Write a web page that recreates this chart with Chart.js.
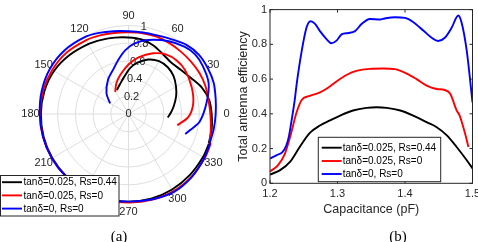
<!DOCTYPE html>
<html>
<head>
<meta charset="utf-8">
<script src="https://cdn.jsdelivr.net/npm/chart.js@4.4.1/dist/chart.umd.min.js"></script>
<style>
  html, body { margin: 0; padding: 0; background: #fff; overflow: hidden; }
  body { width: 478px; height: 242px; position: relative; }
  canvas { position: absolute; top: 0; }
  #polarChart { left: 0; }
  #effChart { left: 234px; }
  .cap { position: absolute; top: 228px; width: 40px; text-align: center;
         font: 15px 'Liberation Serif', 'Times New Roman', serif; line-height: 16px; color: #000; }
</style>
</head>
<body>
<canvas id="polarChart" width="240" height="242"></canvas>
<canvas id="effChart" width="260" height="242"></canvas>
<div class="cap" style="left:99px">(a)</div>
<div class="cap" style="left:378px">(b)</div>
<script>
// series shared by both panels
const seriesLabels = ['tanδ=0.025, Rs=0.44', 'tanδ=0.025, Rs=0', 'tanδ=0, Rs=0'];
const seriesColors = ['#000000', '#ff0000', '#0000ff'];

// (a) polar plot: angle in degrees, magnitude 0..1
const outerAngle = [-20, -10, 0, 10, 20, 30, 40, 50, 60, 70, 80, 90, 100, 110, 120, 135, 150, 165,
  180, 195, 210, 225, 240, 255, 270, 285, 300, 315, 330, 340];
const blackOuterR = [0.965, 0.955, 0.94, 0.925, 0.88, 0.815, 0.775, 0.755, 0.78, 0.825, 0.855, 0.865,
  0.877, 0.892, 0.912, 0.942, 0.972, 0.985, 0.99, 0.993, 0.995, 0.995, 0.995, 0.993, 0.99, 0.99,
  0.985, 0.978, 0.972, 0.968];
const redOuterR = [0.975, 0.945, 0.925, 0.917, 0.925, 0.926, 0.922, 0.92, 0.925, 0.93, 0.927, 0.922,
  0.93, 0.945, 0.962, 0.985, 0.995, 1.0, 1.0, 1.0, 1.0, 1.0, 1.0, 1.0, 1.0, 1.005, 1.01, 1.005,
  0.995, 0.985];
const blueOuterR = [0.975, 0.978, 0.985, 1.0, 1.025, 1.035, 1.04, 1.02, 0.975, 0.945, 0.935, 0.935,
  0.95, 0.975, 1.0, 1.02, 1.025, 1.015, 1.003, 1.0, 1.0, 1.0, 1.0, 0.995, 0.99, 1.0, 1.02, 1.01,
  0.99, 0.98];

const blackInnerAngle = [116, 106, 97, 88, 80, 70, 60, 50, 40, 30, 20, 10, 2, -5];
const blackInnerR = [0.30, 0.35, 0.42, 0.52, 0.59, 0.655, 0.69, 0.69, 0.665, 0.62, 0.572, 0.52, 0.48, 0.445];
const redInnerAngle = [121, 112, 102, 90, 80, 68, 58, 48, 38, 23, 9, -3, -13];
const redInnerR = [0.29, 0.37, 0.45, 0.56, 0.65, 0.74, 0.795, 0.815, 0.81, 0.776, 0.74, 0.676, 0.565];
const blueInnerAngle = [150, 137, 121, 108, 100, 93, 85, 75, 61, 50, 42, 33, 21, 8, -6, -14.6, -19.5];
const blueInnerR = [0.24, 0.34, 0.45, 0.54, 0.63, 0.72, 0.80, 0.866, 0.94, 0.99, 1.01, 1.0, 0.97,
  0.89, 0.81, 0.72, 0.68];

const radialTicks = [0, 0.2, 0.4, 0.6, 0.8, 1];
const angleTicks = [0, 30, 60, 90, 120, 150, 180, 210, 240, 270, 300, 330];

// (b) total antenna efficiency vs capacitance (pF)
const blackCap = [1.2, 1.215, 1.23, 1.244, 1.259, 1.274, 1.289, 1.304, 1.323, 1.343, 1.358, 1.373,
  1.393, 1.412, 1.432, 1.447, 1.462, 1.4765, 1.4915, 1.5];
const blackEff = [0.05, 0.076, 0.125, 0.209, 0.29, 0.333, 0.362, 0.39, 0.419, 0.434, 0.438, 0.434,
  0.419, 0.39, 0.352, 0.323, 0.276, 0.209, 0.133, 0.086];
const redCap = [1.2, 1.212, 1.222, 1.23, 1.2395, 1.247, 1.259, 1.274, 1.286, 1.299, 1.314, 1.328,
  1.348, 1.368, 1.385, 1.4025, 1.417, 1.432, 1.447, 1.459, 1.467, 1.4765, 1.481, 1.489, 1.494];
const redEff = [0.068, 0.105, 0.17, 0.27, 0.41, 0.48, 0.503, 0.523, 0.55, 0.588, 0.625, 0.647,
  0.659, 0.661, 0.657, 0.632, 0.6, 0.562, 0.543, 0.537, 0.515, 0.42, 0.39, 0.286, 0.209];
const blueCap = [1.2, 1.21, 1.218, 1.224, 1.228, 1.232, 1.2365, 1.2395, 1.247, 1.254, 1.26, 1.2667,
  1.274, 1.284, 1.291, 1.299, 1.306, 1.316, 1.326, 1.336, 1.348, 1.363, 1.37, 1.385, 1.4, 1.412,
  1.427, 1.4395, 1.449, 1.459, 1.469, 1.479, 1.484, 1.4915, 1.5];
const blueEff = [0.143, 0.162, 0.178, 0.215, 0.27, 0.362, 0.476, 0.571, 0.762, 0.895, 0.933, 0.918,
  0.876, 0.829, 0.806, 0.823, 0.857, 0.865, 0.876, 0.918, 0.946, 0.943, 0.949, 0.956, 0.952, 0.929,
  0.88, 0.838, 0.819, 0.838, 0.895, 0.966, 0.923, 0.762, 0.466];

const capTicks = [1.2, 1.3, 1.4, 1.5];
const effTicks = [0, 0.2, 0.4, 0.6, 0.8, 1];

Chart.defaults.font.family = "'Liberation Sans', Arial, sans-serif";
Chart.defaults.color = '#262626';
const axisColor = '#262626';

function toXY(angles, radii, close) {
  const pts = angles.map((a, i) => ({
    x: radii[i] * Math.cos(a * Math.PI / 180),
    y: radii[i] * Math.sin(a * Math.PI / 180),
  }));
  if (close) pts.push({ ...pts[0] });
  return pts;
}

function zip(xs, ys) {
  return xs.map((x, i) => ({ x, y: ys[i] }));
}

function lineSet(label, idx, data, inLegend, extra) {
  return Object.assign({
    label,
    data,
    showLine: true,
    borderColor: seriesColors[idx],
    backgroundColor: seriesColors[idx],
    borderWidth: 1.9,
    pointRadius: 0,
    fill: false,
    order: 3 - idx,
    inLegend,
  }, extra);
}

// boxed legend with a line sample and the label of each dataset flagged inLegend
function drawLegend(chart, box, rowsY, sampleX, textX) {
  const ctx = chart.ctx;
  const sets = chart.data.datasets.filter((d) => d.inLegend);
  ctx.save();
  ctx.fillStyle = '#fff';
  ctx.fillRect(box.x, box.y, box.w, box.h);
  ctx.strokeStyle = axisColor;
  ctx.lineWidth = 1;
  ctx.strokeRect(box.x, box.y, box.w, box.h);
  ctx.font = "10px 'Liberation Sans', Arial, sans-serif";
  ctx.textBaseline = 'middle';
  ctx.textAlign = 'left';
  sets.forEach((d, i) => {
    ctx.strokeStyle = d.borderColor;
    ctx.lineWidth = 1.9;
    ctx.beginPath();
    ctx.moveTo(sampleX[0], rowsY[i]);
    ctx.lineTo(sampleX[1], rowsY[i]);
    ctx.stroke();
    ctx.fillStyle = '#000';
    ctx.fillText(d.label, textX, rowsY[i] + 0.5);
  });
  ctx.restore();
}

// ---------- (a) polar ----------
const polarGrid = {
  id: 'polarGrid',
  beforeDatasetsDraw(chart) {
    const { ctx, scales: { x, y } } = chart;
    const cx = x.getPixelForValue(0);
    const cy = y.getPixelForValue(0);
    const unit = x.getPixelForValue(1) - cx;
    ctx.save();
    ctx.strokeStyle = '#dedede';
    ctx.lineWidth = 1;
    radialTicks.forEach((r) => {
      if (r <= 0) return;
      ctx.beginPath();
      ctx.arc(cx, cy, r * unit, 0, Math.PI * 2);
      ctx.stroke();
    });
    const rMax = radialTicks[radialTicks.length - 1];
    angleTicks.forEach((a) => {
      const t = a * Math.PI / 180;
      ctx.beginPath();
      ctx.moveTo(cx, cy);
      ctx.lineTo(cx + Math.cos(t) * rMax * unit, cy - Math.sin(t) * rMax * unit);
      ctx.stroke();
    });
    ctx.fillStyle = axisColor;
    ctx.font = "11px 'Liberation Sans', Arial, sans-serif";
    ctx.textAlign = 'center';
    ctx.textBaseline = 'middle';
    const labR = rMax * unit + 9.5;
    angleTicks.forEach((a) => {
      const t = a * Math.PI / 180;
      ctx.fillText(String(a), cx + Math.cos(t) * labR, cy - Math.sin(t) * labR);
    });
    const ra = 80 * Math.PI / 180;
    radialTicks.forEach((r) => {
      ctx.fillText(String(r), cx + Math.cos(ra) * r * unit, cy - Math.sin(ra) * r * unit);
    });
    ctx.restore();
  },
  afterDraw(chart) {
    drawLegend(chart, { x: 0.5, y: 175.5, w: 118.5, h: 40.5 }, [182.2, 195.4, 208.6], [2, 22], 23.5);
  },
};

new Chart(document.getElementById('polarChart'), {
  type: 'scatter',
  data: {
    datasets: [
      lineSet(seriesLabels[0], 0, toXY(outerAngle, blackOuterR, true), true, { tension: 0.3 }),
      lineSet(seriesLabels[1], 1, toXY(outerAngle, redOuterR, true), true, { tension: 0.3 }),
      lineSet(seriesLabels[2], 2, toXY(outerAngle, blueOuterR, true), true, { tension: 0.3 }),
      lineSet(seriesLabels[0], 0, toXY(blackInnerAngle, blackInnerR, false), false, { tension: 0.3 }),
      lineSet(seriesLabels[1], 1, toXY(redInnerAngle, redInnerR, false), false, { tension: 0.3 }),
      lineSet(seriesLabels[2], 2, toXY(blueInnerAngle, blueInnerR, false), false, { tension: 0.3 }),
    ],
  },
  options: {
    responsive: false,
    animation: false,
    events: [],
    clip: false,
    layout: { padding: { left: 4.6, right: 5.3, top: 3.4, bottom: 21.8 } },
    scales: {
      x: { type: 'linear', min: -1.4, max: 1.2, display: false },
      y: { type: 'linear', min: -1.2, max: 1.25, display: false },
    },
    plugins: { legend: { display: false }, tooltip: { enabled: false } },
  },
  plugins: [polarGrid],
});

// ---------- (b) efficiency ----------
const axesBox = {
  id: 'axesBox',
  afterDatasetsDraw(chart) {
    const { ctx, chartArea: a, scales: { x, y } } = chart;
    const tl = 3;
    ctx.save();
    ctx.strokeStyle = axisColor;
    ctx.lineWidth = 1;
    ctx.strokeRect(a.left, a.top, a.right - a.left, a.bottom - a.top);
    ctx.beginPath();
    capTicks.forEach((v) => {
      const px = x.getPixelForValue(v);
      ctx.moveTo(px, a.bottom); ctx.lineTo(px, a.bottom - tl);
      ctx.moveTo(px, a.top); ctx.lineTo(px, a.top + tl);
    });
    effTicks.forEach((v) => {
      const py = y.getPixelForValue(v);
      ctx.moveTo(a.left, py); ctx.lineTo(a.left + tl, py);
      ctx.moveTo(a.right, py); ctx.lineTo(a.right - tl, py);
    });
    ctx.stroke();
    ctx.restore();
  },
  afterDraw(chart) {
    drawLegend(chart, { x: 84.3, y: 137.3, w: 122.4, h: 44.4 }, [147.7, 161, 174], [87.7, 107.7], 108.7);
  },
};

new Chart(document.getElementById('effChart'), {
  type: 'scatter',
  data: {
    datasets: [
      lineSet(seriesLabels[0], 0, zip(blackCap, blackEff), true, { cubicInterpolationMode: 'monotone' }),
      lineSet(seriesLabels[1], 1, zip(redCap, redEff), true, { cubicInterpolationMode: 'monotone' }),
      lineSet(seriesLabels[2], 2, zip(blueCap, blueEff), true, { cubicInterpolationMode: 'monotone' }),
    ],
  },
  options: {
    responsive: false,
    animation: false,
    events: [],
    layout: { padding: { left: 0, right: 21.5, top: 8.3, bottom: 24 } },
    scales: {
      x: {
        type: 'linear', min: 1.2, max: 1.5,
        afterBuildTicks: (s) => { s.ticks = capTicks.map((v) => ({ value: v })); },
        afterFit: (s) => { s.height = 34.7; },
        ticks: { callback: (v) => Number(v).toFixed(1), font: { size: 11 }, padding: 4, maxRotation: 0, autoSkip: false },
        grid: { display: false, drawTicks: false },
        border: { display: false },
        title: { display: true, text: 'Capacitance (pF)', font: { size: 12.5 }, padding: { top: 0, bottom: 0.5 } },
      },
      y: {
        type: 'linear', min: 0, max: 1,
        afterBuildTicks: (s) => { s.ticks = effTicks.map((v) => ({ value: v })); },
        afterFit: (s) => { s.width = 36; },
        ticks: { callback: (v) => String(+Number(v).toFixed(1)), font: { size: 11 }, padding: 3, autoSkip: false },
        grid: { display: false, drawTicks: false },
        border: { display: false },
        title: { display: true, text: 'Total antenna efficiency', font: { size: 12.5 }, padding: { top: 1.8, bottom: 0 } },
      },
    },
    plugins: { legend: { display: false }, tooltip: { enabled: false } },
  },
  plugins: [axesBox],
});
</script>
</body>
</html>
